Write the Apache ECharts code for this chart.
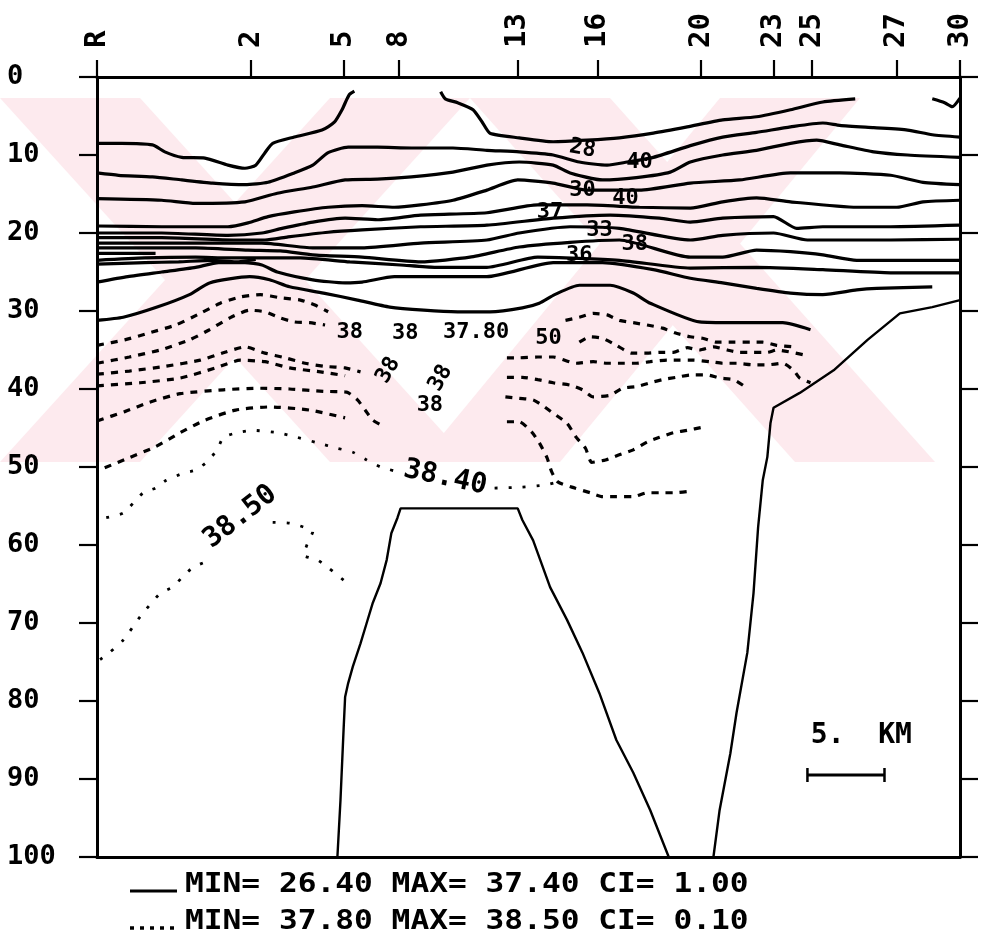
<!DOCTYPE html>
<html><head><meta charset="utf-8">
<script src="https://cdn.jsdelivr.net/npm/echarts@6/dist/echarts.min.js"></script>
<style>html,body{margin:0;padding:0;background:#fff;}#c{width:982px;height:948px;}</style>
</head><body><div id="c"></div>
<script>
// ---- axes ----
const stationNames = ['R','2','5','8','13','16','20','23','25','27','30'];
const stationKm = [0,10.0,16.0,19.6,27.3,32.5,39.2,43.9,46.4,51.9,56];
const depthMin = 0, depthMax = 100, depthStep = 10;
const kmMin = 0, kmMax = 56;

// ---- solid contours (salinity 27..37), points [km, depth m] ----
const c27a = [[0,8.5],[1.6,8.5],[3.6,8.7],[4.4,9.6],[5.5,10.3],[7.0,10.4],[8.5,11.3],[9.6,11.7],[10.3,11.3],[10.9,9.7],[11.4,8.5],[12.8,7.7],[14.6,6.8],[15.4,5.8],[15.9,4.2],[16.2,2.9],[16.4,2.2],[16.7,1.8]];
const c27b = [[22.3,1.9],[22.6,2.8],[23.4,3.3],[24.4,4.2],[25.0,5.8],[25.5,7.2],[27.4,7.8],[29.6,8.3],[31.8,8.1],[33.9,7.8],[36.1,7.2],[38.3,6.4],[40.6,5.5],[42.8,5.1],[45.0,4.2],[47.1,3.2],[49.2,2.8]];
const c27c = [[54.2,2.8],[55.0,3.3],[55.5,3.8],[56,2.7]];
const c28 = [[0,12.3],[1.4,12.6],[3.6,12.8],[5.5,13.2],[7.5,13.6],[9.6,13.8],[11.1,13.5],[12.8,12.3],[14.0,11.3],[15.0,9.7],[16.3,9.0],[18.2,9.0],[20.4,9.1],[23.1,9.1],[25.3,9.4],[27.4,9.6],[29.6,10.0],[31.3,10.9],[33.1,11.3],[34.4,10.9],[36.1,10.3],[38.5,8.8],[40.6,7.7],[42.8,7.1],[45.0,6.4],[47.1,5.9],[48.2,6.2],[50.4,6.5],[52.6,6.8],[54.2,7.4],[56,7.7]];
const c29 = [[0,15.6],[4.2,15.8],[6.4,16.2],[9.6,16.0],[11.7,14.9],[14.0,14.1],[16.1,13.2],[18.2,13.1],[20.4,12.8],[23.1,12.2],[25.3,11.3],[27.4,10.9],[29.6,11.3],[30.7,12.3],[32.8,13.2],[35.0,12.9],[37.2,12.2],[38.5,10.9],[40.6,10.0],[42.8,9.4],[45.0,8.5],[46.7,8.1],[48.2,8.7],[50.4,9.6],[52.6,10.0],[56,10.3]];
const c30 = [[0,19.1],[4.2,19.2],[8.5,19.2],[9.8,18.7],[11.1,17.9],[12.8,17.3],[15.0,16.7],[17.2,16.5],[19.3,16.7],[21.0,16.4],[23.1,15.8],[25.3,14.5],[27.3,13.2],[29.6,13.6],[31.8,14.5],[35.2,14.5],[38.5,13.6],[41.7,13.2],[45.0,12.3],[48.2,12.3],[51.5,12.6],[53.6,13.5],[56,13.8]];
const c31 = [[0,20.0],[4.2,20.0],[8.5,20.3],[10.7,20.0],[12.0,19.4],[14.0,18.6],[16.1,18.1],[18.2,18.3],[21.0,17.7],[25.3,17.4],[28.6,16.4],[31.8,16.4],[35.2,16.7],[38.5,16.8],[40.6,16.0],[42.8,15.5],[45.0,16.0],[49.3,16.7],[51.9,16.7],[53.6,16.0],[56,15.8]];
const c32 = [[0,20.6],[4.2,20.6],[9.0,20.9],[10.9,20.9],[12.4,20.5],[15.0,19.9],[17.2,19.6],[21.0,19.2],[25.3,19.0],[29.6,18.1],[33.3,17.7],[36.5,18.1],[38.5,18.6],[40.6,18.1],[43.9,17.9],[45.4,19.4],[47.1,19.2],[51.5,19.2],[56,19.0]];
const c33 = [[0,21.3],[6.4,21.3],[10.7,21.3],[14.0,21.9],[17.2,21.9],[21.0,21.3],[25.3,20.9],[27.4,20.0],[30.7,19.2],[33.9,19.4],[38.5,20.9],[40.6,20.3],[43.9,20.0],[46.1,20.9],[51.5,20.9],[56,20.8]];
const c34 = [[0,21.9],[6.4,21.9],[9.8,22.2],[11.9,22.3],[14.0,22.8],[17.2,23.1],[21.0,23.7],[24.2,23.1],[27.4,21.8],[30.7,21.2],[33.9,20.9],[38.5,23.1],[40.6,23.1],[42.8,22.2],[45.0,22.4],[47.1,22.8],[49.3,23.5],[56,23.5]];
const c34s = [[0,22.6],[3.8,22.6]];
const c35 = [[0,23.5],[3.1,23.2],[6.4,23.1],[8.5,23.2],[10.7,23.2],[13.2,23.2],[16.4,23.7],[19.7,24.1],[21.9,24.4],[25.3,24.4],[28.6,23.1],[33.9,23.5],[38.5,24.5],[42.8,24.4],[47.1,24.7],[51.5,25.1],[56,25.1]];
const c35s = [[0,24.0],[3.1,23.8],[5.3,23.7],[7.5,23.5],[9.0,23.7],[10.3,23.4]];
const c36 = [[0,26.3],[2.0,25.6],[4.2,25.0],[6.4,24.4],[7.9,23.8],[9.6,23.8],[10.7,24.1],[11.7,25.0],[14.0,26.0],[16.1,26.4],[17.2,26.3],[19.3,25.6],[21.9,25.6],[25.3,25.6],[29.6,23.8],[32.8,23.8],[36.1,24.7],[38.5,25.8],[40.6,26.4],[42.8,27.1],[45.0,27.7],[47.1,27.9],[49.3,27.3],[50.6,27.1],[54.2,26.9]];
const c37 = [[0,31.2],[1.7,30.8],[3.9,29.5],[6.0,27.9],[7.3,26.4],[9.9,25.6],[11.2,26.0],[12.5,26.9],[14.7,27.7],[16.9,28.6],[19.0,29.5],[21.2,29.9],[23.4,30.1],[25.5,30.1],[27.6,29.6],[28.7,29.0],[29.7,27.9],[31.3,26.7],[33.3,26.7],[34.8,27.7],[35.9,29.0],[39.1,31.4],[41.3,31.5],[44.5,31.5],[46.3,32.4]];

// ---- dotted contours (37.8..38.5) ----
const d378a = [[0,34.4],[1.8,33.7],[3.4,32.8],[5.1,31.8],[6.7,30.3],[8.0,29.0],[9.3,28.2],[10.6,27.9],[11.9,28.3],[13.2,28.6],[14.1,29.2],[15.0,30.1]];
const d378b = [[30.4,31.2],[31.3,30.8],[32.2,30.3],[33.1,30.5],[33.9,31.2],[34.8,31.5],[35.7,31.8],[36.7,32.2],[37.5,32.8],[38.5,33.3],[39.3,33.5],[40.2,34.0],[41.3,34.0],[42.4,34.0],[43.2,34.0],[44.1,34.4],[45.2,34.6]];
const d379a = [[0,36.7],[2.1,35.9],[4.1,35.0],[6.0,33.7],[7.3,32.4],[8.6,30.9],[9.9,29.9],[10.9,30.1],[11.9,30.9],[12.8,31.4],[13.8,31.5],[14.8,31.8]];
const d379b = [[31.3,34.0],[32.0,33.3],[32.8,33.5],[33.7,34.4],[34.7,35.4],[35.7,35.4],[36.5,35.3],[37.4,35.3],[38.3,34.7],[39.1,35.0],[40.0,34.6],[40.9,35.0],[41.7,35.3],[42.6,35.3],[43.5,35.3],[44.1,35.0],[45.8,35.6]];
const d380a = [[0,38.1],[2.1,37.7],[4.4,37.1],[6.7,36.3],[8.3,35.3],[9.6,34.6],[10.9,35.4],[12.2,36.0],[13.5,36.7],[14.8,37.1],[16.1,37.3],[17.1,37.8]];
const d380b = [[26.6,36.0],[27.4,36.0],[28.6,35.9],[29.6,35.9],[31.1,36.7],[32.2,36.5],[33.1,36.7],[34.1,36.7],[35.0,36.7],[35.9,36.5],[37.0,36.3],[37.8,36.3],[38.7,36.3],[39.8,36.5],[40.6,36.7],[41.5,36.7],[42.6,36.9],[43.5,36.9],[44.5,36.7],[45.2,37.6],[45.6,38.6],[46.3,39.2]];
const d381a = [[0,39.6],[2.8,39.2],[5.4,38.6],[7.7,37.3],[9.3,36.3],[10.9,36.5],[12.5,37.3],[14.5,37.8],[16.1,38.3]];
const d381b = [[26.6,38.5],[27.6,38.5],[28.6,38.8],[29.6,39.2],[30.7,39.5],[31.5,40.1],[32.2,41.0],[33.3,40.8],[34.1,39.9],[35.0,39.7],[35.9,39.2],[36.7,38.8],[37.6,38.5],[38.5,38.2],[39.6,38.2],[40.4,38.6],[41.3,38.8],[42.2,39.9]];
const d382a = [[0,44.1],[1.8,42.9],[3.4,41.7],[5.4,40.6],[8.2,40.1],[10.4,39.9],[12.5,40.0],[14.7,40.3],[16.2,40.4],[16.9,41.4],[17.4,42.7],[17.9,44.0],[18.7,44.9]];
const d382b = [[26.5,41.0],[27.4,41.2],[28.3,41.4],[28.9,42.1],[29.6,43.1],[30.5,44.4],[31.1,46.2],[31.7,47.6],[32.1,49.4],[33.0,49.1],[33.8,48.5],[34.8,47.8],[35.7,46.8],[36.5,46.2],[37.4,45.6],[38.3,45.3],[39.3,44.9]];
const d383a = [[0.5,50.1],[2.1,48.8],[3.8,47.4],[5.4,45.6],[7.0,44.0],[9.0,42.7],[11.2,42.3],[13.8,42.7],[16.1,43.7]];
const d383b = [[26.6,44.2],[27.4,44.2],[28.2,45.5],[28.7,46.9],[29.2,48.8],[29.5,50.6],[29.9,51.9],[31.0,52.7],[32.0,53.3],[32.8,53.8],[33.7,53.8],[34.8,53.8],[35.7,53.3],[36.5,53.3],[37.5,53.3],[38.5,53.1]];
const d384a = [[0.6,56.5],[1.7,55.9],[3.0,53.3],[3.8,52.7],[4.5,51.7],[5.6,50.8],[6.4,50.4],[7.1,49.4],[7.8,47.8],[8.2,46.2],[9.1,45.6],[10.1,45.3],[11.7,45.6],[13.0,46.2],[14.3,46.9],[15.6,47.6],[16.6,48.1],[17.5,49.1],[18.4,50.0],[19.5,50.6]];
const d384b = [[25.8,52.7],[27.4,52.6],[29.1,52.3],[29.9,51.9]];
const d385a = [[0.2,74.7],[0.8,73.8],[1.7,72.2],[2.8,69.2],[4.1,66.2],[4.9,65.4],[5.5,64.2],[6.2,62.9],[7.0,62.2]];
const d385b = [[11.4,57.1],[12.5,57.2],[13.4,57.7],[14.0,58.3],[13.7,59.6],[13.4,61.3],[14.3,61.9],[15.0,62.9],[16.0,64.5]];

// ---- sea floor ----
const floorMid = [[15.6,100],[15.8,92.7],[16.0,83.7],[16.1,79.5],[16.3,77.7],[16.6,75.6],[17.1,72.6],[17.5,70.0],[17.9,67.4],[18.4,64.9],[18.8,61.9],[19.1,58.5],[19.5,56.5],[19.7,55.3],[27.3,55.3],[27.6,56.8],[28.3,59.4],[29.4,65.4],[30.5,69.6],[31.5,73.8],[32.6,79.0],[33.7,85.0],[34.8,89.2],[35.9,94.0],[37.1,100]];
const floorEast = [[40.0,100],[40.4,94.0],[41.1,86.7],[41.5,81.5],[42.2,73.8],[42.6,66.2],[42.9,57.7],[43.2,51.7],[43.5,48.7],[43.7,44.4],[43.9,42.4],[45.6,40.5],[47.8,37.6],[50.0,33.7],[52.1,30.3],[54.2,29.5],[56,28.6]];

// ---- contour labels ----
const labelText = ['28','40','30','40','37','33','36','38','38','38','37.80','50','38','38','38'];
const labelPos = [[31.5,9.2],[35.2,10.9],[31.5,14.5],[34.3,15.5],[29.4,17.4],[32.6,19.6],[31.3,22.8],[34.9,21.5],[16.4,32.7],[20.0,32.8],[24.6,32.7],[29.3,33.5],[18.9,37.6],[22.3,38.6],[21.6,42.1]];
const labelRot = [-10,0,0,0,0,0,0,0,0,0,0,0,60,60,0];
const bigLabelText = ['38.40','38.50'];
const bigLabelPos = [[22.6,51.4],[9.3,56.4]];
const bigLabelRot = [-12,38];

// ---- scale bar ----
const scaleKm = [46.1, 51.1];
const scaleDepth = 89.5;
const scaleText = '5.  KM';
const scaleTextPos = [49.6, 84.4];

const FONT = '"DejaVu Sans Mono", "Liberation Mono", monospace';

function contour(data, dotted, fine) {
  return {
    type: 'line', data: data, showSymbol: false, symbol: 'none', smooth: 0.2,
    silent: true, animation: false, z: 3,
    lineStyle: {color: '#000', width: fine ? 2.8 : 3.2,
      type: dotted ? (fine ? [3, 11] : [7, 7]) : 'solid', cap: 'butt'}
  };
}
function floor(data) {
  return {type: 'line', data: data, showSymbol: false, symbol: 'none', silent: true,
    animation: false, z: 3, lineStyle: {color: '#000', width: 2.4}};
}

const solid = [c27a, c27b, c27c, c28, c29, c30, c31, c32, c33, c34, c34s, c35, c35s, c36, c37];
const dottedBand = [d378a, d378b, d379a, d379b, d380a, d380b, d381a, d381b, d382a, d382b, d383a, d383b];
const dottedFine = [d384a, d384b, d385a, d385b];

const series = [];
solid.forEach(d => series.push(contour(d, false)));
dottedBand.forEach(d => series.push(contour(d, true)));
dottedFine.forEach(d => series.push(contour(d, true, true)));
series.push(floor(floorMid));
series.push(floor(floorEast));

function labelSeries(texts, pos, rot, size) {
  return {
    type: 'scatter', symbolSize: 0, itemStyle: {color: '#000', opacity: 1}, silent: true, animation: false, z: 4,
    data: texts.map((t, i) => ({value: pos[i], name: t, label: {rotate: rot[i]}})),
    label: {show: true, position: 'inside', formatter: '{b}', fontFamily: FONT, fontWeight: 'bold', fontSize: size,
      color: '#000', opacity: 1, textBorderWidth: 0}
  };
}
series.push(labelSeries(labelText, labelPos, labelRot, 22));
series.push(labelSeries(bigLabelText, bigLabelPos, bigLabelRot, 28));
series.push(labelSeries([scaleText], [scaleTextPos], [0], 28));
series.push({type: 'line', data: [[scaleKm[0], scaleDepth], [scaleKm[1], scaleDepth]], showSymbol: false, symbol: 'none', silent: true, animation: false, lineStyle: {color: '#000', width: 3}});
series.push({type: 'line', data: [[scaleKm[0], scaleDepth - 0.9], [scaleKm[0], scaleDepth + 0.9]], showSymbol: false, symbol: 'none', silent: true, animation: false, lineStyle: {color: '#000', width: 2.5}});
series.push({type: 'line', data: [[scaleKm[1], scaleDepth - 0.9], [scaleKm[1], scaleDepth + 0.9]], showSymbol: false, symbol: 'none', silent: true, animation: false, lineStyle: {color: '#000', width: 2.5}});

const PINK = '#fdeaee';
function band(pts) { return {type: 'polygon', shape: {points: pts}, style: {fill: PINK}, silent: true, z: -10}; }

const chart = echarts.init(document.getElementById('c'), null, {renderer: 'canvas'});
chart.setOption({
  backgroundColor: '#fff',
  animation: false,
  grid: {left: 97, right: 22, top: 77, bottom: 91, containLabel: false},
  xAxis: [{
    type: 'value', position: 'top', min: kmMin, max: kmMax,
    axisLine: {show: true, onZero: false, lineStyle: {color: '#000', width: 3}},
    axisTick: {show: true, inside: false, length: 17, customValues: stationKm, lineStyle: {color: '#000', width: 2.2}},
    axisLabel: {show: true, customValues: stationKm, rotate: -90, margin: 29,
      formatter: v => stationNames[stationKm.indexOf(v)],
      fontFamily: FONT, fontWeight: 'bold', fontSize: 29, color: '#000'},
    splitLine: {show: false}
  }, {
    type: 'value', position: 'bottom', min: kmMin, max: kmMax,
    axisLine: {show: true, onZero: false, lineStyle: {color: '#000', width: 3}},
    axisTick: {show: false}, axisLabel: {show: false}, splitLine: {show: false}
  }],
  yAxis: [{
    type: 'value', position: 'left', inverse: true, min: depthMin, max: depthMax, interval: depthStep,
    axisLine: {show: true, onZero: false, lineStyle: {color: '#000', width: 3}},
    axisTick: {show: true, inside: false, length: 18, lineStyle: {color: '#000', width: 2.2}},
    axisLabel: {show: true, align: 'left', margin: 90, fontFamily: FONT, fontWeight: 'bold', fontSize: 27, color: '#000'},
    splitLine: {show: false}
  }, {
    type: 'value', position: 'right', inverse: true, min: depthMin, max: depthMax, interval: depthStep,
    axisLine: {show: true, onZero: false, lineStyle: {color: '#000', width: 3}},
    axisTick: {show: true, inside: false, length: 18, lineStyle: {color: '#000', width: 2.2}},
    axisLabel: {show: false}, splitLine: {show: false}
  }],
  graphic: [
    band([[0,98],[140,98],[470,462],[330,462]]),
    band([[330,98],[470,98],[140,462],[0,462]]),
    band([[470,98],[610,98],[935,462],[795,462]]),
    band([[720,98],[860,98],[560,462],[420,462]]),
    {type: 'line', shape: {x1: 130, y1: 891, x2: 177, y2: 891}, style: {stroke: '#000', lineWidth: 2.8}, silent: true},
    {type: 'line', shape: {x1: 130, y1: 928, x2: 177, y2: 928}, style: {stroke: '#000', lineWidth: 3.5, lineDash: [4, 6]}, silent: true},
    {type: 'text', x: 185, y: 885, scaleX: 1.2, silent: true,
      style: {text: 'MIN= 26.40 MAX= 37.40 CI= 1.00', font: 'bold 26px ' + FONT, fill: '#000', align: 'left', verticalAlign: 'middle'}},
    {type: 'text', x: 185, y: 922, scaleX: 1.2, silent: true,
      style: {text: 'MIN= 37.80 MAX= 38.50 CI= 0.10', font: 'bold 26px ' + FONT, fill: '#000', align: 'left', verticalAlign: 'middle'}}
  ],
  series: series
});
</script>
</body></html>
